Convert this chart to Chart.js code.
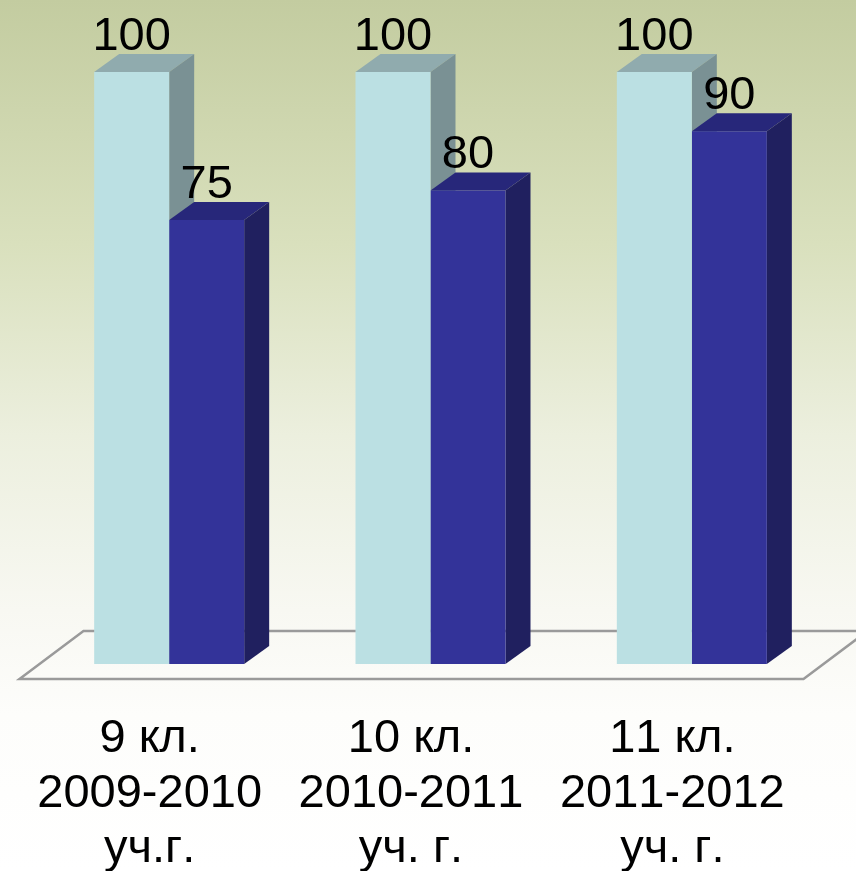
<!DOCTYPE html>
<html lang="ru">
  <head>
    <meta charset="UTF-8" />
    <title>9-11 кл.</title>
    <style>
      * {
        margin: 0;
        padding: 0;
        box-sizing: border-box;
      }

      body {
        width: 856px;
        height: 871px;
        overflow: hidden;
        background: linear-gradient(
          to bottom,
          #c3cca0 0%,
          #d9e0bd 28%,
          #ecefde 50%,
          #f8f8f2 70%,
          #fdfdfb 82%,
          #ffffff 100%
        );
      }

      canvas {
        display: block;
      }
    </style>
  </head>
  <body>
    <canvas id="myChart" width="856" height="871"></canvas>

    <script src="https://cdn.jsdelivr.net/npm/chart.js"></script>

    <script>
      const categories = [
        ["9 кл.", "2009-2010", "уч.г."],
        ["10 кл.", "2010-2011", "уч. г."],
        ["11 кл.", "2011-2012", "уч. г."],
      ];
      const seriesA = [100, 100, 100];
      const seriesB = [75, 80, 90];
      const yTicks = [0, 100];

      const FONT = "Liberation Sans, Arial, sans-serif";
      const DEPTH_X = 25;
      const DEPTH_Y = 18;

      const faces = [
        { front: "#bbe0e3", top: "#90abae", side: "#7a9194" },
        { front: "#333399", top: "#27277a", side: "#20205f" },
      ];

      // the reference has no kerning in its digits
      const noKerning = {
        id: "noKerning",
        beforeDraw(chart) {
          chart.ctx.fontKerning = "none";
        },
      };

      // floor plate under the bars
      const floorPlate = {
        id: "floorPlate",
        beforeDatasetsDraw(chart) {
          const { ctx, chartArea } = chart;
          const y = chartArea.bottom + 15;
          const x0 = chartArea.left - 19;
          const x1 = chartArea.right - 19;
          ctx.save();
          ctx.beginPath();
          ctx.moveTo(x0, y);
          ctx.lineTo(x1, y);
          ctx.lineTo(x1 + 64, y - 48);
          ctx.lineTo(x0 + 64, y - 48);
          ctx.closePath();
          ctx.strokeStyle = "#9a9a9a";
          ctx.lineWidth = 2.5;
          ctx.stroke();
          ctx.restore();
        },
      };

      // top and right side of each bar
      const barDepth = {
        id: "barDepth",
        beforeDatasetsDraw(chart) {
          const { ctx, scales } = chart;
          const base = scales.y.getPixelForValue(0);
          ctx.save();
          chart.data.datasets.forEach((dataset, i) => {
            chart.getDatasetMeta(i).data.forEach((bar) => {
              const left = bar.x - bar.width / 2;
              const right = bar.x + bar.width / 2;

              ctx.fillStyle = faces[i].top;
              ctx.beginPath();
              ctx.moveTo(left, bar.y);
              ctx.lineTo(right, bar.y);
              ctx.lineTo(right + DEPTH_X, bar.y - DEPTH_Y);
              ctx.lineTo(left + DEPTH_X, bar.y - DEPTH_Y);
              ctx.closePath();
              ctx.fill();

              ctx.fillStyle = faces[i].side;
              ctx.beginPath();
              ctx.moveTo(right, bar.y);
              ctx.lineTo(right + DEPTH_X, bar.y - DEPTH_Y);
              ctx.lineTo(right + DEPTH_X, base - DEPTH_Y);
              ctx.lineTo(right, base);
              ctx.closePath();
              ctx.fill();
            });
          });
          ctx.restore();
        },
      };

      const valueLabels = {
        id: "valueLabels",
        afterDatasetsDraw(chart) {
          const { ctx } = chart;
          ctx.save();
          ctx.font = "47px " + FONT;
          ctx.fillStyle = "#000000";
          ctx.textAlign = "center";
          ctx.textBaseline = "alphabetic";
          chart.data.datasets.forEach((dataset, i) => {
            chart.getDatasetMeta(i).data.forEach((bar, j) => {
              ctx.fillText(dataset.data[j], bar.x, bar.y - 22);
            });
          });
          ctx.restore();
        },
      };

      const config = {
        type: "bar",
        data: {
          labels: categories,
          datasets: [
            { data: seriesA, backgroundColor: faces[0].front },
            { data: seriesB, backgroundColor: faces[1].front },
          ],
        },
        options: {
          responsive: false,
          animation: false,
          devicePixelRatio: 1,
          categoryPercentage: 0.574,
          barPercentage: 1,
          layout: {
            padding: { left: 38.5, right: 33.5, top: 72, bottom: 0 },
          },
          plugins: {
            legend: { display: false },
            tooltip: { enabled: false },
          },
          scales: {
            x: {
              grid: { display: false },
              border: { display: false },
              afterFit(scale) {
                scale.height = 207;
              },
              ticks: {
                color: "#000000",
                maxRotation: 0,
                autoSkip: false,
                padding: 40,
                labelOffset: -19.5,
                font: { family: FONT, size: 47, lineHeight: "55px" },
              },
            },
            y: {
              display: false,
              min: yTicks[0],
              max: yTicks[1],
            },
          },
        },
        plugins: [noKerning, floorPlate, barDepth, valueLabels],
      };

      const myChart = new Chart(document.getElementById("myChart"), config);
    </script>
  </body>
</html>
